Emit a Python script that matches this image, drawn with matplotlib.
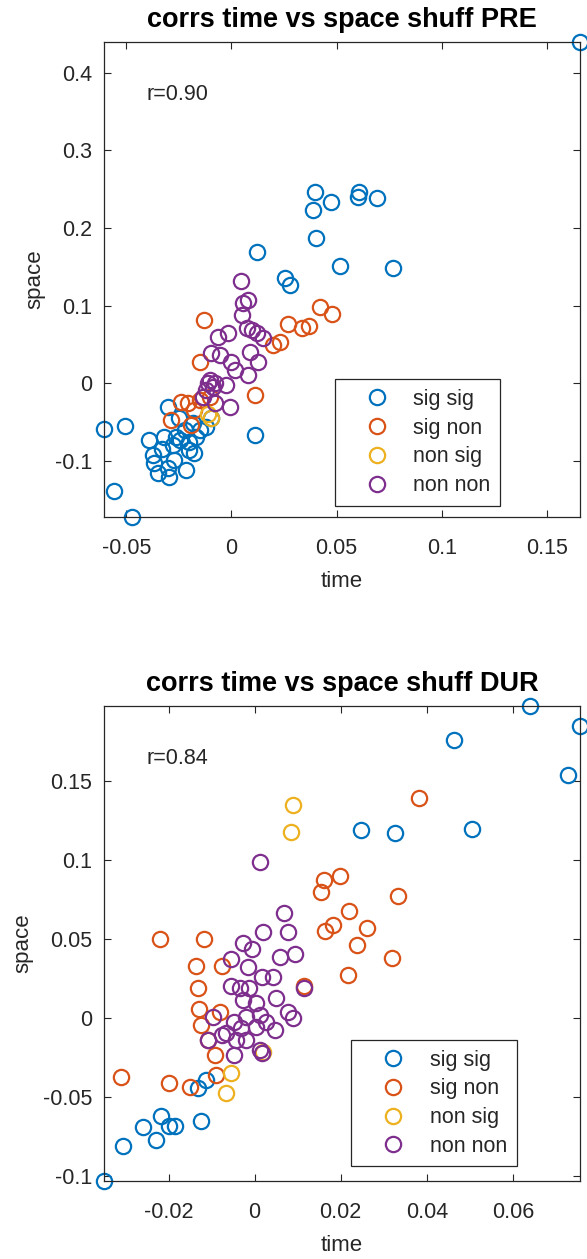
import matplotlib
matplotlib.use('Agg')
import matplotlib.pyplot as plt
from matplotlib.ticker import FormatStrFormatter

plt.rcParams['font.family'] = ['Liberation Sans', 'DejaVu Sans']
plt.rcParams['axes.unicode_minus'] = False

# group colours (sig/non for time, sig/non for space)
group_labels = ['sig sig', 'sig non', 'non sig', 'non non']
group_colors = ['#0072BD', '#D95319', '#EDB120', '#7E2F8E']

# ---- PRE session ----
pre_sigsig_t = [0.1657, 0.0399, 0.0474, 0.0388, 0.0606, 0.0601, 0.0690, 0.0403, 0.0518, 0.0770,
                0.0120, 0.0255, 0.0279, 0.0111, -0.0606, -0.0506, -0.0559, -0.0471, -0.0303, -0.0391,
                -0.0375, -0.0367, -0.0351, -0.0303, -0.0295, -0.0271, -0.0215, -0.0200, -0.0247, -0.0223,
                -0.0167, -0.0120, -0.0263, -0.0319, -0.0184, -0.0096, -0.0152, -0.0250, -0.0200, -0.0280,
                -0.0180, -0.0330]
pre_sigsig_s = [0.4395, 0.2468, 0.2334, 0.2228, 0.2468, 0.2398, 0.2386, 0.1871, 0.1508, 0.1486,
                0.1692, 0.1350, 0.1264, -0.0665, -0.0591, -0.0549, -0.1384, -0.1720, -0.0301, -0.0729,
                -0.0922, -0.1028, -0.1157, -0.1093, -0.1200, -0.0986, -0.1114, -0.0857, -0.0729, -0.0600,
                -0.0686, -0.0558, -0.0686, -0.0686, -0.0514, -0.0450, -0.0600, -0.0450, -0.0750, -0.0800,
                -0.0900, -0.0850]
pre_signon_t = [-0.0133, -0.0152, 0.0111, -0.0239, -0.0287, -0.0191, -0.0208, -0.0152, -0.0104, -0.0176,
                0.0231, 0.0199, 0.0271, 0.0335, 0.0367, 0.0422, 0.0478]
pre_signon_s = [0.0814, 0.0278, -0.0150, -0.0236, -0.0472, -0.0536, -0.0257, -0.0215, -0.0172, -0.0343,
                0.0535, 0.0492, 0.0762, 0.0707, 0.0737, 0.0977, 0.0891]
pre_nonsig_t = [-0.0096, -0.0110]
pre_nonsig_s = [-0.0450, -0.0400]
pre_nonnon_t = [0.0043, 0.0079, 0.0055, 0.0048, 0.0072, 0.0096, 0.0120, 0.0151, -0.0064, -0.0016,
                -0.0096, -0.0056, 0.0000, 0.0016, 0.0088, 0.0127, 0.0079, -0.0024, -0.0104, -0.0120,
                -0.0080, -0.0008, -0.0080, -0.0136, -0.0110, -0.0090]
pre_nonnon_s = [0.1319, 0.1071, 0.1028, 0.0878, 0.0707, 0.0685, 0.0643, 0.0578, 0.0599, 0.0643,
                0.0386, 0.0364, 0.0278, 0.0171, 0.0406, 0.0278, 0.0107, -0.0022, 0.0042, -0.0086,
                0.0000, -0.0301, -0.0257, -0.0172, 0.0010, -0.0050]
pre_r = 0.90

# ---- DUR session ----
dur_sigsig_t = [0.0640, 0.0756, 0.0463, 0.0727, 0.0247, 0.0326, 0.0506, -0.0112, -0.0132, -0.0124,
                -0.0217, -0.0260, -0.0230, -0.0199, -0.0184, -0.0305, -0.0350]
dur_sigsig_s = [0.1977, 0.1850, 0.1761, 0.1540, 0.1192, 0.1171, 0.1196, -0.0391, -0.0443, -0.0648,
                -0.0618, -0.0686, -0.0770, -0.0682, -0.0682, -0.0808, -0.1030]
dur_signon_t = [0.0382, 0.0160, 0.0199, 0.0155, 0.0333, 0.0219, 0.0182, 0.0163, 0.0260, 0.0237,
                0.0217, 0.0114, 0.0320, -0.0219, -0.0118, -0.0137, -0.0077, -0.0132, -0.0130, -0.0081,
                -0.0124, -0.0109, -0.0093, -0.0089, -0.0310, -0.0199, -0.0150]
dur_signon_s = [0.1392, 0.0875, 0.0901, 0.0801, 0.0774, 0.0681, 0.0590, 0.0554, 0.0570, 0.0464,
                0.0274, 0.0204, 0.0380, 0.0500, 0.0500, 0.0331, 0.0331, 0.0190, 0.0057, 0.0042,
                -0.0042, -0.0137, -0.0232, -0.0359, -0.0370, -0.0411, -0.0433]
dur_nonsig_t = [0.0088, 0.0085, -0.0056, -0.0067, 0.0019]
dur_nonsig_s = [0.1350, 0.1181, -0.0344, -0.0471, -0.0211]
dur_nonnon_t = [0.0012, 0.0068, 0.0077, 0.0019, -0.0027, -0.0005, 0.0093, 0.0058, -0.0054, -0.0016,
                0.0016, 0.0043, -0.0054, -0.0035, -0.0012, 0.0114, 0.0049, -0.0027, 0.0004, -0.0097,
                0.0077, 0.0088, -0.0047, -0.0019, 0.0012, 0.0027, 0.0047, 0.0004, -0.0031, -0.0066,
                -0.0109, -0.0043, -0.0019, 0.0012, -0.0049, 0.0016, -0.0077]
dur_nonnon_s = [0.0991, 0.0668, 0.0548, 0.0548, 0.0475, 0.0437, 0.0407, 0.0386, 0.0373, 0.0327,
                0.0263, 0.0263, 0.0204, 0.0190, 0.0190, 0.0190, 0.0127, 0.0116, 0.0095, 0.0010,
                0.0042, 0.0000, -0.0021, 0.0010, 0.0021, -0.0021, -0.0074, -0.0053, -0.0063, -0.0095,
                -0.0137, -0.0137, -0.0137, -0.0201, -0.0232, -0.0222, -0.0106]
dur_r = 0.84

pre_xticks = [-0.05, 0, 0.05, 0.1, 0.15]
pre_yticks = [-0.1, 0, 0.1, 0.2, 0.3, 0.4]
dur_xticks = [-0.02, 0, 0.02, 0.04, 0.06]
dur_yticks = [-0.1, -0.05, 0, 0.05, 0.1, 0.15]

FS = 15.5
AX_COLOR = '#262626'


def draw_panel(ax, groups, r, title, xticks, yticks, leg_anchor):
    all_t, all_s = [], []
    for (t, s), lab, col in zip(groups, group_labels, group_colors):
        ax.plot(t, s, 'o', mfc='none', mec=col, ms=11, mew=1.6, label=lab, clip_on=False)
        all_t += t
        all_s += s
    # tight limits like MATLAB 'axis tight'
    ax.set_xlim(min(all_t), max(all_t))
    ax.set_ylim(min(all_s), max(all_s))
    ax.set_xticks(xticks)
    ax.set_yticks(yticks)
    ax.xaxis.set_major_formatter(FormatStrFormatter('%g'))
    ax.yaxis.set_major_formatter(FormatStrFormatter('%g'))
    ax.tick_params(direction='in', top=True, right=True, length=5, width=0.8,
                   labelsize=FS, colors=AX_COLOR)
    ax.tick_params(axis='x', pad=15)
    ax.tick_params(axis='y', pad=8.5)
    for sp in ax.spines.values():
        sp.set_color(AX_COLOR)
        sp.set_linewidth(0.9)
    ax.set_xlabel('time', fontsize=FS + 0.5, color=AX_COLOR, labelpad=8.5)
    ax.set_ylabel('space', fontsize=FS + 0.5, color=AX_COLOR, labelpad=7)
    ax.set_title(title, fontsize=19.5, fontweight='bold', pad=11)
    ax.text(0.09, 0.89, 'r=%.2f' % r, transform=ax.transAxes, fontsize=FS,
            color=AX_COLOR, va='center', ha='left')
    leg = ax.legend(loc='upper left', bbox_to_anchor=leg_anchor, fontsize=FS,
                    frameon=True, fancybox=False, framealpha=1, edgecolor=AX_COLOR,
                    borderpad=0.45, handlelength=3.0, handletextpad=0.2,
                    labelspacing=0.36, borderaxespad=0)
    leg.get_frame().set_linewidth(0.9)
    for txt in leg.get_texts():
        txt.set_color(AX_COLOR)


fig = plt.figure(figsize=(5.87, 12.59), dpi=100)
ax1 = fig.add_axes([0.1772, 0.5894, 0.8109, 0.3773])
ax2 = fig.add_axes([0.1772, 0.0620, 0.8109, 0.3773])

draw_panel(ax1,
           [(pre_sigsig_t, pre_sigsig_s), (pre_signon_t, pre_signon_s),
            (pre_nonsig_t, pre_nonsig_s), (pre_nonnon_t, pre_nonnon_s)],
           pre_r, 'corrs time vs space shuff PRE', pre_xticks, pre_yticks, (0.485, 0.290))
draw_panel(ax2,
           [(dur_sigsig_t, dur_sigsig_s), (dur_signon_t, dur_signon_s),
            (dur_nonsig_t, dur_nonsig_s), (dur_nonnon_t, dur_nonnon_s)],
           dur_r, 'corrs time vs space shuff DUR', dur_xticks, dur_yticks, (0.519, 0.297))

fig.savefig('out.png', dpi=100)
